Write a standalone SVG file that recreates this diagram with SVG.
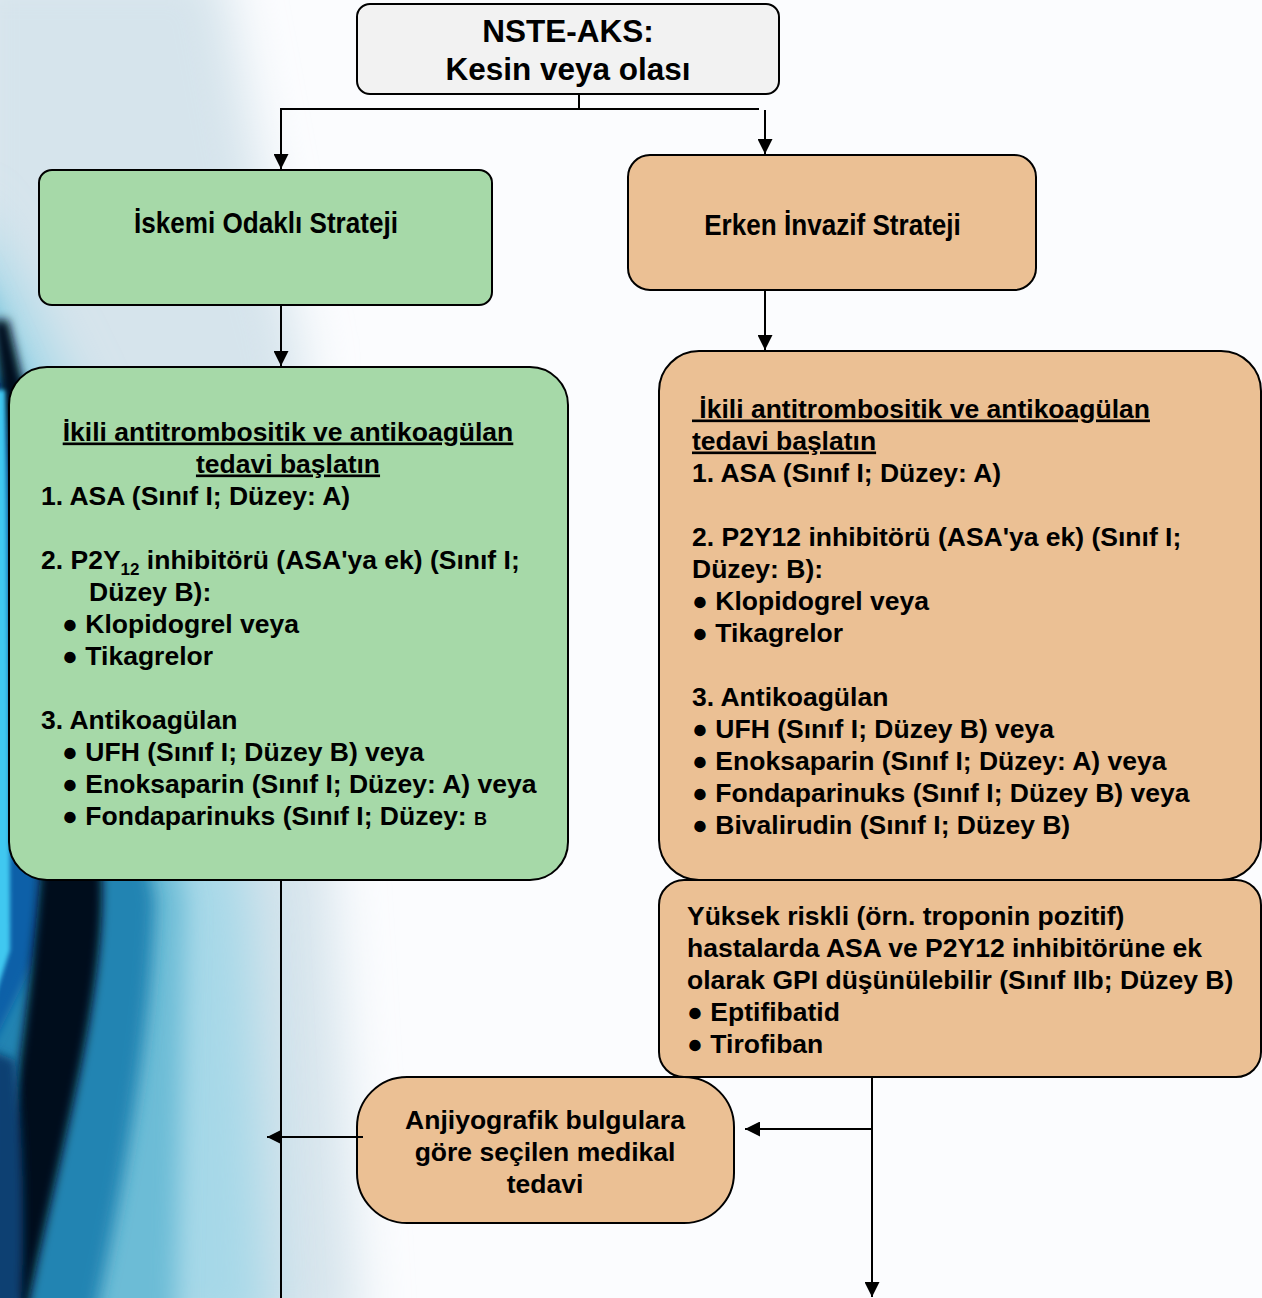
<svg xmlns="http://www.w3.org/2000/svg" width="1262" height="1298" viewBox="0 0 1262 1298">
<defs>
<style>
.t{font-family:"Liberation Sans",Arial,sans-serif;font-weight:bold;font-size:26.5px;fill:#000}
.title{font-size:31.5px}
.lbl{font-size:30px}
.u{text-decoration:underline}
.box{stroke:#000;stroke-width:2}
.g{fill:#a6d9a8}
.o{fill:#ebc094}
.w{fill:#f2f2f2}
.c path{fill:none;stroke:#000;stroke-width:2}
</style>
<marker id="ah" viewBox="0 0 15 15" refX="15" refY="7.5" markerWidth="15" markerHeight="15" markerUnits="userSpaceOnUse" orient="auto">
<path d="M0,0 L15,7.5 L0,15 Z" fill="#000"/>
</marker>
<filter id="b25" x="-50%" y="-50%" width="200%" height="200%"><feGaussianBlur stdDeviation="25"/></filter>
<filter id="b12" x="-50%" y="-50%" width="200%" height="200%"><feGaussianBlur stdDeviation="12"/></filter>
<filter id="b8" x="-50%" y="-50%" width="200%" height="200%"><feGaussianBlur stdDeviation="8"/></filter>
<filter id="b5" x="-50%" y="-50%" width="200%" height="200%"><feGaussianBlur stdDeviation="5"/></filter>
<filter id="b2" x="-50%" y="-50%" width="200%" height="200%"><feGaussianBlur stdDeviation="2"/></filter>
</defs>

<g id="background">
<rect width="1262" height="1298" fill="#fbfcfe"/>
<path d="M-40,-40 L220,-40 C250,100 270,250 300,340 L360,1340 L-40,1340 Z" fill="#d6e4ec" filter="url(#b25)"/>
<path d="M-40,200 C80,350 200,700 250,900 L270,1340 L-40,1340 Z" fill="#a6d8e8" filter="url(#b25)"/>
<path d="M-40,240 C50,400 140,700 185,900 L175,1340 L-40,1340 Z" fill="#6cbcd6" filter="url(#b12)"/>
<path d="M-40,270 C40,420 115,700 155,900 C150,1050 120,1200 90,1340 L-40,1340 Z" fill="#2384b2" filter="url(#b8)"/>
<path d="M-10,380 L30,380 C40,600 45,800 40,950 L-10,1050 Z" fill="#1060a8" filter="url(#b5)"/>
<path d="M-8,320 C10,440 30,650 40,880 C30,1000 12,1120 -8,1260 L25,1320 C60,1150 105,1000 102,880 C80,650 40,450 8,320 Z" fill="#02101a" filter="url(#b5)"/>
<path d="M-10,1050 L15,1060 C25,1150 25,1250 20,1320 L-10,1320 Z" fill="#0b3f72" filter="url(#b5)"/>
<path d="M-6,390 L5,390 C8,600 10,800 10,950 L-6,1000 Z" fill="#40c8f0" filter="url(#b2)"/>
</g>

<g id="n-top">
<rect class="box w" x="357" y="4" width="422" height="90" rx="13"/>
<text class="t title" text-anchor="middle"><tspan x="568" y="42">NSTE-AKS:</tspan><tspan x="568" y="80">Kesin veya olası</tspan></text>
</g>

<g id="n-iskemi">
<rect class="box g" x="39" y="170" width="453" height="135" rx="13"/>
<text class="t lbl" text-anchor="middle" transform="translate(266 233) scale(0.87 1)">İskemi Odaklı Strateji</text>
</g>

<g id="n-erken">
<rect class="box o" x="628" y="155" width="408" height="135" rx="22"/>
<text class="t lbl" text-anchor="middle" transform="translate(832.5 235) scale(0.87 1)">Erken İnvazif Strateji</text>
</g>

<g id="n-left-treat">
<rect class="box g" x="9" y="367" width="559" height="513" rx="38"/>
<text class="t u" x="288" y="440.5" text-anchor="middle">İkili antitrombositik ve antikoagülan</text>
<text class="t u" x="288" y="472.5" text-anchor="middle">tedavi başlatın</text>
<text class="t" x="41" y="504.5">1. ASA (Sınıf I; Düzey: A)</text>
<text class="t" x="41" y="568.5">2. P2Y<tspan font-size="17" dy="6">12</tspan><tspan dy="-6"> inhibitörü (ASA'ya ek) (Sınıf I;</tspan></text>
<text class="t" x="89" y="600.5">Düzey B):</text>
<text class="t" x="62" y="632.5">● Klopidogrel veya</text>
<text class="t" x="62" y="664.5">● Tikagrelor</text>
<text class="t" x="41" y="728.5">3. Antikoagülan</text>
<text class="t" x="62" y="760.5">● UFH (Sınıf I; Düzey B) veya</text>
<text class="t" x="62" y="792.5">● Enoksaparin (Sınıf I; Düzey: A) veya</text>
<text class="t" x="62" y="824.5">● Fondaparinuks (Sınıf I; Düzey: <tspan font-size="18">B</tspan></text>
</g>

<g id="n-right-treat">
<rect class="box o" x="659" y="351" width="602" height="529" rx="40"/>
<text class="t u" x="692" y="417.5">&#160;İkili antitrombositik ve antikoagülan</text>
<text class="t u" x="692" y="449.5">tedavi başlatın</text>
<text class="t" x="692" y="481.5">1. ASA (Sınıf I; Düzey: A)</text>
<text class="t" x="692" y="545.5">2. P2Y12 inhibitörü (ASA'ya ek) (Sınıf I;</text>
<text class="t" x="692" y="577.5">Düzey: B):</text>
<text class="t" x="692" y="609.5">● Klopidogrel veya</text>
<text class="t" x="692" y="641.5">● Tikagrelor</text>
<text class="t" x="692" y="705.5">3. Antikoagülan</text>
<text class="t" x="692" y="737.5">● UFH (Sınıf I; Düzey B) veya</text>
<text class="t" x="692" y="769.5">● Enoksaparin (Sınıf I; Düzey: A) veya</text>
<text class="t" x="692" y="801.5">● Fondaparinuks (Sınıf I; Düzey B) veya</text>
<text class="t" x="692" y="833.5">● Bivalirudin (Sınıf I; Düzey B)</text>
</g>

<g id="n-gpi">
<rect class="box o" x="659" y="880" width="602" height="197" rx="25"/>
<text class="t" x="687" y="924.5">Yüksek riskli (örn. troponin pozitif)</text>
<text class="t" x="687" y="956.5">hastalarda ASA ve P2Y12 inhibitörüne ek</text>
<text class="t" x="687" y="988.5">olarak GPI düşünülebilir (Sınıf IIb; Düzey B)</text>
<text class="t" x="687" y="1020.5">● Eptifibatid</text>
<text class="t" x="687" y="1052.5">● Tirofiban</text>
</g>

<g id="n-anjio">
<rect class="box o" x="357" y="1077" width="377" height="146" rx="50"/>
<text class="t" text-anchor="middle"><tspan x="545" y="1128.5">Anjiyografik bulgulara</tspan><tspan x="545" y="1160.5">göre seçilen medikal</tspan><tspan x="545" y="1192.5">tedavi</tspan></text>
</g>

<g id="connectors" class="c">
<path d="M579,94 V109"/>
<path d="M759,109 H281 V169" marker-end="url(#ah)"/>
<path d="M765,110 V154" marker-end="url(#ah)"/>
<path d="M281,305 V366" marker-end="url(#ah)"/>
<path d="M765,290 V350" marker-end="url(#ah)"/>
<path d="M281,880 V1298"/>
<path d="M363,1137 H267" marker-end="url(#ah)"/>
<path d="M872,1077 V1297" marker-end="url(#ah)"/>
<path d="M872,1129 H745" marker-end="url(#ah)"/>
</g>
</svg>
